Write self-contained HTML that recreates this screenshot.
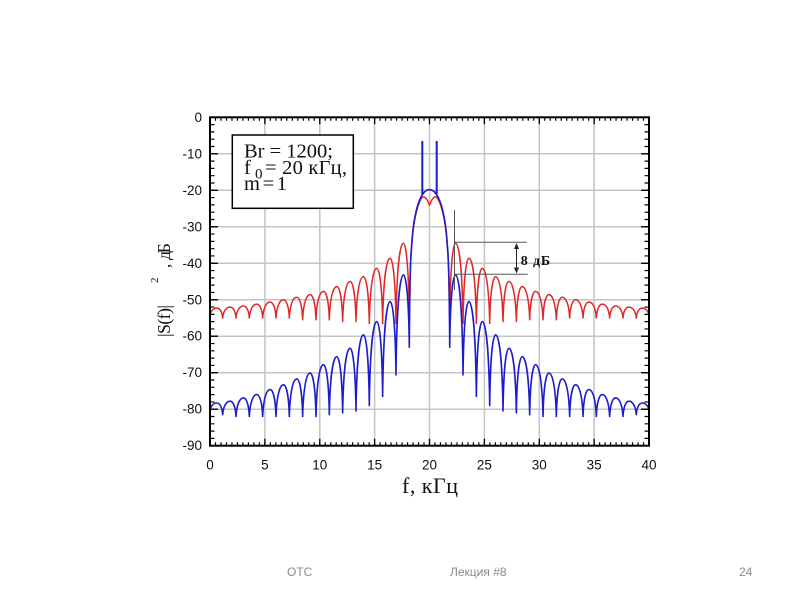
<!DOCTYPE html>
<html><head><meta charset="utf-8">
<style>
html,body{margin:0;padding:0;background:#fff;}
svg{display:block;}
.tl{font-family:"Liberation Sans",Arial,sans-serif;font-size:13.5px;fill:#111;}
.sf{font-family:"Liberation Serif","Noto Serif CJK SC",serif;fill:#111;}
.ft{font-family:"Liberation Sans",Arial,sans-serif;font-size:12px;fill:#8a8a8a;}
</style></head>
<body>
<svg width="800" height="600" viewBox="0 0 800 600" xmlns="http://www.w3.org/2000/svg">
<rect width="800" height="600" fill="#fff"/>
<defs><clipPath id="cp"><rect x="210" y="117.3" width="439" height="328.4"/></clipPath></defs>

<!-- grid -->
<g stroke="#c4c4c4" stroke-width="1.5" fill="none">
<path d="M264.9 117.3V445.7M319.8 117.3V445.7M374.6 117.3V445.7M429.5 117.3V445.7M484.4 117.3V445.7M539.3 117.3V445.7M594.1 117.3V445.7"/>
<path d="M210 153.8H649M210 190.3H649M210 226.8H649M210 263.3H649M210 299.8H649M210 336.2H649M210 372.7H649M210 409.2H649"/>
</g>

<g clip-path="url(#cp)" fill="none" stroke-linejoin="round">
<g id="redg" stroke="#e02828" stroke-width="1.5">
<path id="redR" d="M429.5,205.6 L431.5,200.4 L433.5,197.8 L435,196.9 L436.5,197.1 L438,198.9 L439.5,202.1 L441,206.2 L442.5,211.4 L443.5,215.8 L444.5,221 L445.5,227.5 L446.5,235.9 L448,255.6 L448.5,266.9 L449,282.6 L449.5,311.4 L449.7,321.6
c0.59,-54.88 3.25,-78.4 5.9,-78.4 c3.34,0 6.69,24.09 7.43,80.3
c0.59,-45.71 3.25,-65.3 5.9,-65.3 c3.34,0 6.69,19.59 7.43,65.3
c0.59,-38.57 3.25,-55.1 5.9,-55.1 c3.34,0 6.69,16.53 7.43,55.1
c0.59,-32.69 3.25,-46.7 5.9,-46.7 c3.34,0 6.69,13.44 7.43,44.8
c0.59,-28.07 3.25,-40.1 5.9,-40.1 c3.34,0 6.69,12.03 7.43,40.1
c0.59,-24.5 3.25,-35 5.9,-35 c3.34,0 6.69,9.96 7.43,33.2
c0.59,-19.88 3.25,-28.4 5.9,-28.4 c3.34,0 6.69,8.52 7.43,28.4
c0.59,-17.64 3.25,-25.2 5.9,-25.2 c3.34,0 6.69,7.56 7.43,25.2
c0.59,-15.82 3.25,-22.6 5.9,-22.6 c3.34,0 6.69,6.24 7.43,20.8
c0.59,-12.74 3.25,-18.2 5.9,-18.2 c3.34,0 6.69,5.46 7.43,18.2
c0.59,-11.2 3.25,-16 5.9,-16 c3.34,0 6.69,4.8 7.43,16
c0.59,-9.73 3.25,-13.9 5.9,-13.9 c3.34,0 6.69,4.17 7.43,13.9
c0.59,-8.4 3.25,-12 5.9,-12 c3.34,0 6.69,3.6 7.43,12
c0.59,-7.63 3.25,-10.9 5.9,-10.9 c3.34,0 6.69,3.27 7.43,10.9
c0.59,-6.93 3.25,-9.9 5.9,-9.9 c3.34,0 6.69,2.97 7.43,9.9"/>
<path transform="translate(859,0) scale(-1,1)" d="M429.5,205.6 L431.5,200.4 L433.5,197.8 L435,196.9 L436.5,197.1 L438,198.9 L439.5,202.1 L441,206.2 L442.5,211.4 L443.5,215.8 L444.5,221 L445.5,227.5 L446.5,235.9 L448,255.6 L448.5,266.9 L449,282.6 L449.5,311.4 L449.7,321.6
c0.59,-54.88 3.25,-78.4 5.9,-78.4 c3.34,0 6.69,24.09 7.43,80.3
c0.59,-45.71 3.25,-65.3 5.9,-65.3 c3.34,0 6.69,19.59 7.43,65.3
c0.59,-38.57 3.25,-55.1 5.9,-55.1 c3.34,0 6.69,16.53 7.43,55.1
c0.59,-32.69 3.25,-46.7 5.9,-46.7 c3.34,0 6.69,13.44 7.43,44.8
c0.59,-28.07 3.25,-40.1 5.9,-40.1 c3.34,0 6.69,12.03 7.43,40.1
c0.59,-24.5 3.25,-35 5.9,-35 c3.34,0 6.69,9.96 7.43,33.2
c0.59,-19.88 3.25,-28.4 5.9,-28.4 c3.34,0 6.69,8.52 7.43,28.4
c0.59,-17.64 3.25,-25.2 5.9,-25.2 c3.34,0 6.69,7.56 7.43,25.2
c0.59,-15.82 3.25,-22.6 5.9,-22.6 c3.34,0 6.69,6.24 7.43,20.8
c0.59,-12.74 3.25,-18.2 5.9,-18.2 c3.34,0 6.69,5.46 7.43,18.2
c0.59,-11.2 3.25,-16 5.9,-16 c3.34,0 6.69,4.8 7.43,16
c0.59,-9.73 3.25,-13.9 5.9,-13.9 c3.34,0 6.69,4.17 7.43,13.9
c0.59,-8.4 3.25,-12 5.9,-12 c3.34,0 6.69,3.6 7.43,12
c0.59,-7.63 3.25,-10.9 5.9,-10.9 c3.34,0 6.69,3.27 7.43,10.9
c0.59,-6.93 3.25,-9.9 5.9,-9.9 c3.34,0 6.69,2.97 7.43,9.9"/>
</g>
<g stroke="#1c1ccc" stroke-width="1.6">
<path d="M429.5,189.6 L431.5,189.9 L433.5,191.1 L435,192.5 L436.5,194.5 L438,197 L439.5,200.3 L441,204.4 L442.5,209.6 L443.5,214 L444.5,219.1 L445.5,225.7 L446.5,234.1 L448,253.8 L448.5,265.1 L449,282.3 L449.5,319.8 L449.7,347.2
c0.59,-50.61 3.25,-72.3 5.9,-72.3 c3.34,0 6.69,30 7.43,100
c0.59,-51.31 3.25,-73.3 5.9,-73.3 c3.34,0 6.69,28.44 7.43,94.8
c0.59,-52.36 3.25,-74.8 5.9,-74.8 c3.34,0 6.69,25.2 7.43,84
c0.59,-49.56 3.25,-70.8 5.9,-70.8 c3.34,0 6.69,22.86 7.43,76.2
c0.59,-43.89 3.25,-62.7 5.9,-62.7 c3.34,0 6.69,19.38 7.43,64.6
c0.59,-39.34 3.25,-56.2 5.9,-56.2 c3.34,0 6.69,17.4 7.43,58
c0.59,-35 3.25,-50 5.9,-50 c3.34,0 6.69,15.54 7.43,51.8
c0.59,-30.38 3.25,-43.4 5.9,-43.4 c3.34,0 6.69,13.02 7.43,43.4
c0.59,-26.32 3.25,-37.6 5.9,-37.6 c3.34,0 6.69,11.28 7.43,37.6
c0.59,-22.19 3.25,-31.7 5.9,-31.7 c3.34,0 6.69,9.51 7.43,31.7
c0.59,-18.9 3.25,-27 5.9,-27 c3.34,0 6.69,8.1 7.43,27
c0.59,-15.33 3.25,-21.9 5.9,-21.9 c3.34,0 6.69,6.57 7.43,21.9
c0.59,-13.02 3.25,-18.6 5.9,-18.6 c3.34,0 6.69,5.58 7.43,18.6
c0.59,-10.71 3.25,-15.3 5.9,-15.3 c3.34,0 6.69,4.05 7.43,13.5
c0.59,-8.19 3.25,-11.7 5.9,-11.7 c3.34,0 6.69,2.97 7.43,9.9"/>
<path transform="translate(859,0) scale(-1,1)" d="M429.5,189.6 L431.5,189.9 L433.5,191.1 L435,192.5 L436.5,194.5 L438,197 L439.5,200.3 L441,204.4 L442.5,209.6 L443.5,214 L444.5,219.1 L445.5,225.7 L446.5,234.1 L448,253.8 L448.5,265.1 L449,282.3 L449.5,319.8 L449.7,347.2
c0.59,-50.61 3.25,-72.3 5.9,-72.3 c3.34,0 6.69,30 7.43,100
c0.59,-51.31 3.25,-73.3 5.9,-73.3 c3.34,0 6.69,28.44 7.43,94.8
c0.59,-52.36 3.25,-74.8 5.9,-74.8 c3.34,0 6.69,25.2 7.43,84
c0.59,-49.56 3.25,-70.8 5.9,-70.8 c3.34,0 6.69,22.86 7.43,76.2
c0.59,-43.89 3.25,-62.7 5.9,-62.7 c3.34,0 6.69,19.38 7.43,64.6
c0.59,-39.34 3.25,-56.2 5.9,-56.2 c3.34,0 6.69,17.4 7.43,58
c0.59,-35 3.25,-50 5.9,-50 c3.34,0 6.69,15.54 7.43,51.8
c0.59,-30.38 3.25,-43.4 5.9,-43.4 c3.34,0 6.69,13.02 7.43,43.4
c0.59,-26.32 3.25,-37.6 5.9,-37.6 c3.34,0 6.69,11.28 7.43,37.6
c0.59,-22.19 3.25,-31.7 5.9,-31.7 c3.34,0 6.69,9.51 7.43,31.7
c0.59,-18.9 3.25,-27 5.9,-27 c3.34,0 6.69,8.1 7.43,27
c0.59,-15.33 3.25,-21.9 5.9,-21.9 c3.34,0 6.69,6.57 7.43,21.9
c0.59,-13.02 3.25,-18.6 5.9,-18.6 c3.34,0 6.69,5.58 7.43,18.6
c0.59,-10.71 3.25,-15.3 5.9,-15.3 c3.34,0 6.69,4.05 7.43,13.5
c0.59,-8.19 3.25,-11.7 5.9,-11.7 c3.34,0 6.69,2.97 7.43,9.9"/>
</g>
<path d="M436.7 194.6V141M422.3 194.6V141" stroke="#1c1ccc" stroke-width="2"/>
</g>

<!-- ticks -->
<g stroke="#000" fill="none">
<line x1="209.4" y1="443.95" x2="649.6" y2="443.95" stroke-width="3.5" stroke-dasharray="1.2 4.2875"/>
<line x1="209.4" y1="119.05" x2="649.6" y2="119.05" stroke-width="3.5" stroke-dasharray="1.2 4.2875"/>
<line x1="212.25" y1="116.7" x2="212.25" y2="446.3" stroke-width="4.5" stroke-dasharray="1.2 6.098"/>
<line x1="646.75" y1="116.7" x2="646.75" y2="446.3" stroke-width="4.5" stroke-dasharray="1.2 6.098"/>
<path stroke-width="1.3" d="M264.9 445.7v-7M319.8 445.7v-7M374.6 445.7v-7M429.5 445.7v-7M484.4 445.7v-7M539.3 445.7v-7M594.1 445.7v-7
M264.9 117.3v7M319.8 117.3v7M374.6 117.3v7M429.5 117.3v7M484.4 117.3v7M539.3 117.3v7M594.1 117.3v7
M210 153.8h8M210 190.3h8M210 226.8h8M210 263.3h8M210 299.8h8M210 336.2h8M210 372.7h8M210 409.2h8
M649 153.8h-8M649 190.3h-8M649 226.8h-8M649 263.3h-8M649 299.8h-8M649 336.2h-8M649 372.7h-8M649 409.2h-8"/>
</g>
<rect x="210" y="117.3" width="439" height="328.4" fill="none" stroke="#000" stroke-width="2"/>

<!-- y tick labels -->
<g class="tl" text-anchor="end">
<text x="202" y="121.8">0</text>
<text x="202" y="158.3">-10</text>
<text x="202" y="194.8">-20</text>
<text x="202" y="231.3">-30</text>
<text x="202" y="267.8">-40</text>
<text x="202" y="304.3">-50</text>
<text x="202" y="340.7">-60</text>
<text x="202" y="377.2">-70</text>
<text x="202" y="413.7">-80</text>
<text x="202" y="450.2">-90</text>
</g>
<!-- x tick labels -->
<g class="tl" text-anchor="middle">
<text x="210" y="469.5">0</text>
<text x="264.9" y="469.5">5</text>
<text x="319.8" y="469.5">10</text>
<text x="374.6" y="469.5">15</text>
<text x="429.5" y="469.5">20</text>
<text x="484.4" y="469.5">25</text>
<text x="539.3" y="469.5">30</text>
<text x="594.1" y="469.5">35</text>
<text x="649" y="469.5">40</text>
</g>

<!-- axis titles -->
<text class="sf" x="402" y="493" font-size="22" textLength="56">f, кГц</text>
<g transform="translate(170,337) rotate(-90)">
<text class="sf" x="0" y="0" font-size="18" textLength="32">|S(f)|</text>
<text class="sf" x="54" y="-12" font-size="11">2</text>
<text class="sf" x="69" y="0" font-size="17">,</text>
<text class="sf" x="77" y="0" font-size="18" textLength="17">дБ</text>
</g>

<!-- legend box -->
<rect x="232.3" y="135" width="121" height="73.3" fill="#fff" stroke="#000" stroke-width="1.5"/>
<text class="sf" x="244" y="157.7" font-size="20.5" textLength="89">Br = 1200;</text>
<text class="sf" x="244" y="174" font-size="20.5">f</text>
<text class="sf" x="255" y="178.5" font-size="15">0</text>
<text class="sf" x="265" y="174" font-size="20.5" textLength="82">= 20 кГц,</text>
<text class="sf" x="244" y="190" font-size="20.5" textLength="43">m = 1</text>

<!-- annotation -->
<g stroke="#555" stroke-width="1" fill="none">
<line x1="454.5" y1="210" x2="454.5" y2="290"/>
<line x1="455" y1="242.3" x2="526.7" y2="242.3"/>
<line x1="455" y1="274.3" x2="527.7" y2="274.3"/>
<line x1="516.5" y1="246" x2="516.5" y2="271" stroke="#222"/>
</g>
<polygon points="516.5,243 514,249 519,249" fill="#222"/>
<polygon points="516.5,273.5 514,267.5 519,267.5" fill="#222"/>
<text class="sf" x="520.7" y="265" font-size="14" font-weight="bold" textLength="29.5">8 дБ</text>

<!-- footer -->
<text class="ft" x="287" y="576">ОТС</text>
<text class="ft" x="450" y="576">Лекция #8</text>
<text class="ft" x="739" y="576">24</text>
</svg>
</body></html>
